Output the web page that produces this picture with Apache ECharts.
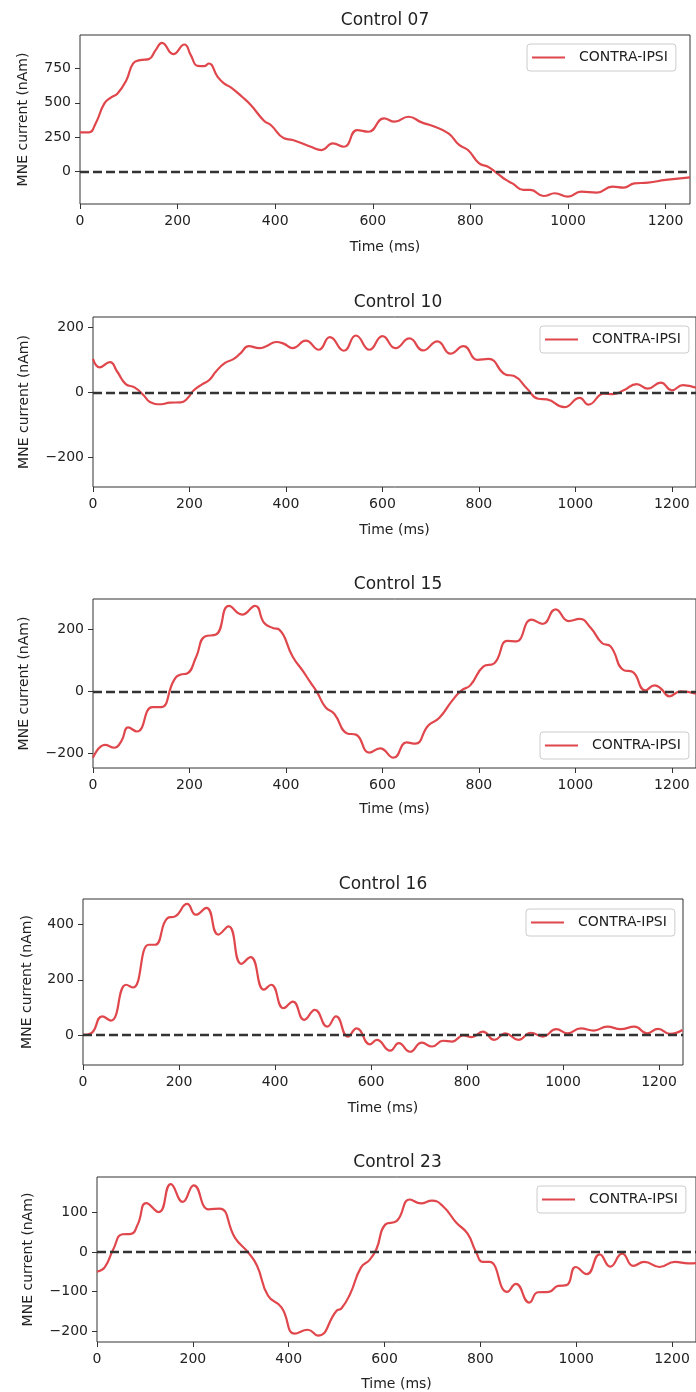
<!DOCTYPE html>
<html>
<head>
<meta charset="utf-8">
<script src="https://cdn.jsdelivr.net/npm/echarts@6/dist/echarts.min.js"></script>
<style>
html, body { margin: 0; padding: 0; background: #fff; }
#chart { width: 696px; height: 1392px; }
</style>
</head>
<body>
<div id="chart"></div>
<script>
// one pair of arrays per subject
const titles = ['Control 07', 'Control 10', 'Control 15', 'Control 16', 'Control 23'];
const seriesName = 'CONTRA-IPSI';
const xTicks = [0, 200, 400, 600, 800, 1000, 1200];

const t07 = [0,18,32,50,64,77,95,109,123,141,155,168,191,214,227,241,255,264,282,295,309,332,350,377,391,418,436,473,495,518,541,568,591,623,645,673,700,723,755,777,795,818,836,855,873,886,909,923,950,973,1000,1027,1059,1091,1114,1136,1164,1200,1250];
const v07 = [285,285,350,496,540,568,665,786,810,818,883,936,854,924,847,769,767,786,689,641,612,544,484,370,339,242,230,181,157,206,181,302,290,387,363,399,358,331,278,194,157,60,36,-12,-60,-85,-133,-133,-177,-157,-181,-145,-152,-109,-116,-85,-80,-60,-41];

const t10 = [0,14,35,50,68,86,105,118,141,159,182,195,209,227,241,255,273,291,305,323,345,359,380,395,414,441,468,491,520,545,573,600,627,656,684,714,741,768,797,820,855,873,900,923,941,977,1009,1027,1059,1077,1100,1127,1150,1177,1200,1223,1250];
const v10 = [104,78,94,65,26,16,-8,-29,-36,-31,-30,-19,7,26,39,65,91,103,120,143,137,143,156,151,137,160,132,171,129,176,132,174,137,167,130,158,120,143,101,104,56,51,12,-19,-21,-45,-16,-37,-3,-5,7,26,12,31,7,23,15];

const t15 = [0,25,44,59,73,91,123,141,168,182,195,214,232,255,282,309,336,355,373,386,414,436,450,464,482,500,527,545,573,595,623,650,668,695,718,745,764,782,809,832,859,877,909,932,959,986,1009,1032,1055,1073,1100,1118,1145,1164,1177,1195,1218,1250];
const v15 = [-213,-172,-181,-159,-116,-129,-51,-51,36,54,57,111,176,182,274,246,274,219,203,198,111,63,30,-2,-51,-72,-135,-139,-197,-183,-213,-164,-168,-110,-85,-29,3,19,79,90,162,160,230,216,263,225,232,203,155,144,68,63,3,19,9,-16,0,-8];

const t16 = [0,17,40,58,90,104,137,150,176,192,217,235,257,282,303,330,349,377,392,418,437,461,483,509,527,552,570,598,612,640,658,681,706,727,750,769,792,810,833,857,880,907,933,958,986,1009,1037,1064,1092,1120,1149,1175,1198,1223,1249];
const v16 = [0,6,67,52,182,172,327,327,424,430,475,436,461,364,394,258,282,164,182,97,121,55,91,30,67,-6,24,-34,-18,-57,-30,-61,-28,-42,-21,-24,-2,-8,12,-18,6,-18,8,-6,21,6,24,16,30,21,30,6,22,4,18];

const t23 = [0,16,34,53,71,85,103,129,154,179,202,233,256,288,316,334,357,385,413,440,461,500,510,528,551,569,583,602,625,653,676,699,722,750,773,791,805,819,856,874,902,920,943,962,980,999,1022,1049,1071,1096,1119,1142,1174,1206,1234,1250];
const v23 = [-50,-39,7,45,46,70,124,101,172,127,169,108,110,36,-2,-35,-111,-140,-207,-197,-212,-149,-143,-107,-39,-20,7,70,78,133,123,130,116,74,47,0,-25,-25,-101,-81,-128,-102,-101,-86,-84,-38,-56,-6,-37,-4,-35,-25,-38,-25,-29,-28];

const yTicks07 = [0, 250, 500, 750];
const yTicks10 = [-200, 0, 200];
const yTicks15 = [-200, 0, 200];
const yTicks16 = [0, 200, 400];
const yTicks23 = [-200, -100, 0, 100];

const times = [t07, t10, t15, t16, t23];
const values = [v07, v10, v15, v16, v23];
const yTicks = [yTicks07, yTicks10, yTicks15, yTicks16, yTicks23];
const yLimits = [[-235, 993], [-291, 233], [-246, 296], [-109, 493], [-228, 190]];

// panel boxes in px (left, top, width, height), plus label gaps and legend spot
const panels = [
    { l: 80, t: 35,   w: 610, h: 169, gy: 50, gx: 36, legL: 527, legT: 44 },
    { l: 93, t: 317,  w: 610, h: 170, gy: 62, gx: 36, legL: 540, legT: 326 },
    { l: 93, t: 599,  w: 610, h: 169, gy: 62, gx: 34, legL: 540, legT: 732 },
    { l: 83, t: 899,  w: 600, h: 166, gy: 49, gx: 36, legL: 526, legT: 909 },
    { l: 97, t: 1177, w: 601, h: 167, gy: 62, gx: 35, legL: 537, legT: 1186 }
];

const font = 'DejaVu Sans';
const ink = '#222';
const red = '#e0474c';

// matplotlib style numbers: no thousands comma, real minus sign
function tickText(v) {
    return String(v).replace('-', '\u2212');
}

const chart = echarts.init(document.getElementById('chart'));

const option = {
    animation: false,
    backgroundColor: '#fff',
    title: [],
    legend: [],
    grid: [],
    xAxis: [],
    yAxis: [],
    series: []
};

panels.forEach(function(p, i) {
    option.title.push({
        text: titles[i],
        left: p.l + p.w / 2,
        top: p.t - 24,
        textAlign: 'center',
        padding: 0,
        textStyle: { fontFamily: font, fontSize: 17, fontWeight: 'normal', color: ink, lineHeight: 20 }
    });
    option.grid.push({
        left: p.l, top: p.t, width: p.w, height: p.h,
        show: true, borderColor: '#333', borderWidth: 1, backgroundColor: 'transparent'
    });
    option.legend.push({
        data: [seriesName],
        left: p.legL, top: p.legT,
        orient: 'vertical',
        icon: 'rect', itemWidth: 33, itemHeight: 2,
        padding: [6, 8, 6, 5],
        borderColor: '#ccc', borderWidth: 1, borderRadius: 3,
        backgroundColor: 'rgba(255,255,255,0.8)',
        selectedMode: false,
        textStyle: { fontFamily: font, fontSize: 14, color: ink, lineHeight: 15, padding: [0, 0, 0, 9] }
    });
    option.xAxis.push({
        type: 'value', gridIndex: i,
        min: 0, max: 1250,
        name: 'Time (ms)', nameLocation: 'middle', nameGap: p.gx,
        nameTextStyle: { fontFamily: font, fontSize: 14, color: ink },
        axisLine: { show: false, onZero: false },
        axisTick: { show: true, length: 5, customValues: xTicks, lineStyle: { color: '#333', width: 1 } },
        axisLabel: { customValues: xTicks, margin: 10, fontFamily: font, fontSize: 14, color: ink, formatter: tickText },
        splitLine: { show: false }
    });
    option.yAxis.push({
        type: 'value', gridIndex: i,
        min: yLimits[i][0], max: yLimits[i][1],
        name: 'MNE current (nAm)', nameLocation: 'middle', nameGap: p.gy,
        nameTextStyle: { fontFamily: font, fontSize: 14, color: ink },
        axisLine: { show: false, onZero: false },
        axisTick: { show: true, length: 5, customValues: yTicks[i], lineStyle: { color: '#333', width: 1 } },
        axisLabel: { customValues: yTicks[i], margin: 9, fontFamily: font, fontSize: 14, color: ink, formatter: tickText },
        splitLine: { show: false }
    });
    option.series.push({
        name: seriesName,
        type: 'line',
        xAxisIndex: i, yAxisIndex: i,
        data: times[i].map(function(t, k) { return [t, values[i][k]]; }),
        showSymbol: false, symbol: 'none',
        smooth: 0.5,
        color: red,
        lineStyle: { color: red, width: 2.2 },
        emphasis: { disabled: true },
        markLine: {
            silent: true, symbol: ['none', 'none'],
            label: { show: false },
            lineStyle: { color: '#333', type: [9, 4], width: 2.4 },
            data: [{ yAxis: 0 }]
        }
    });
});

chart.setOption(option);
</script>
</body>
</html>
